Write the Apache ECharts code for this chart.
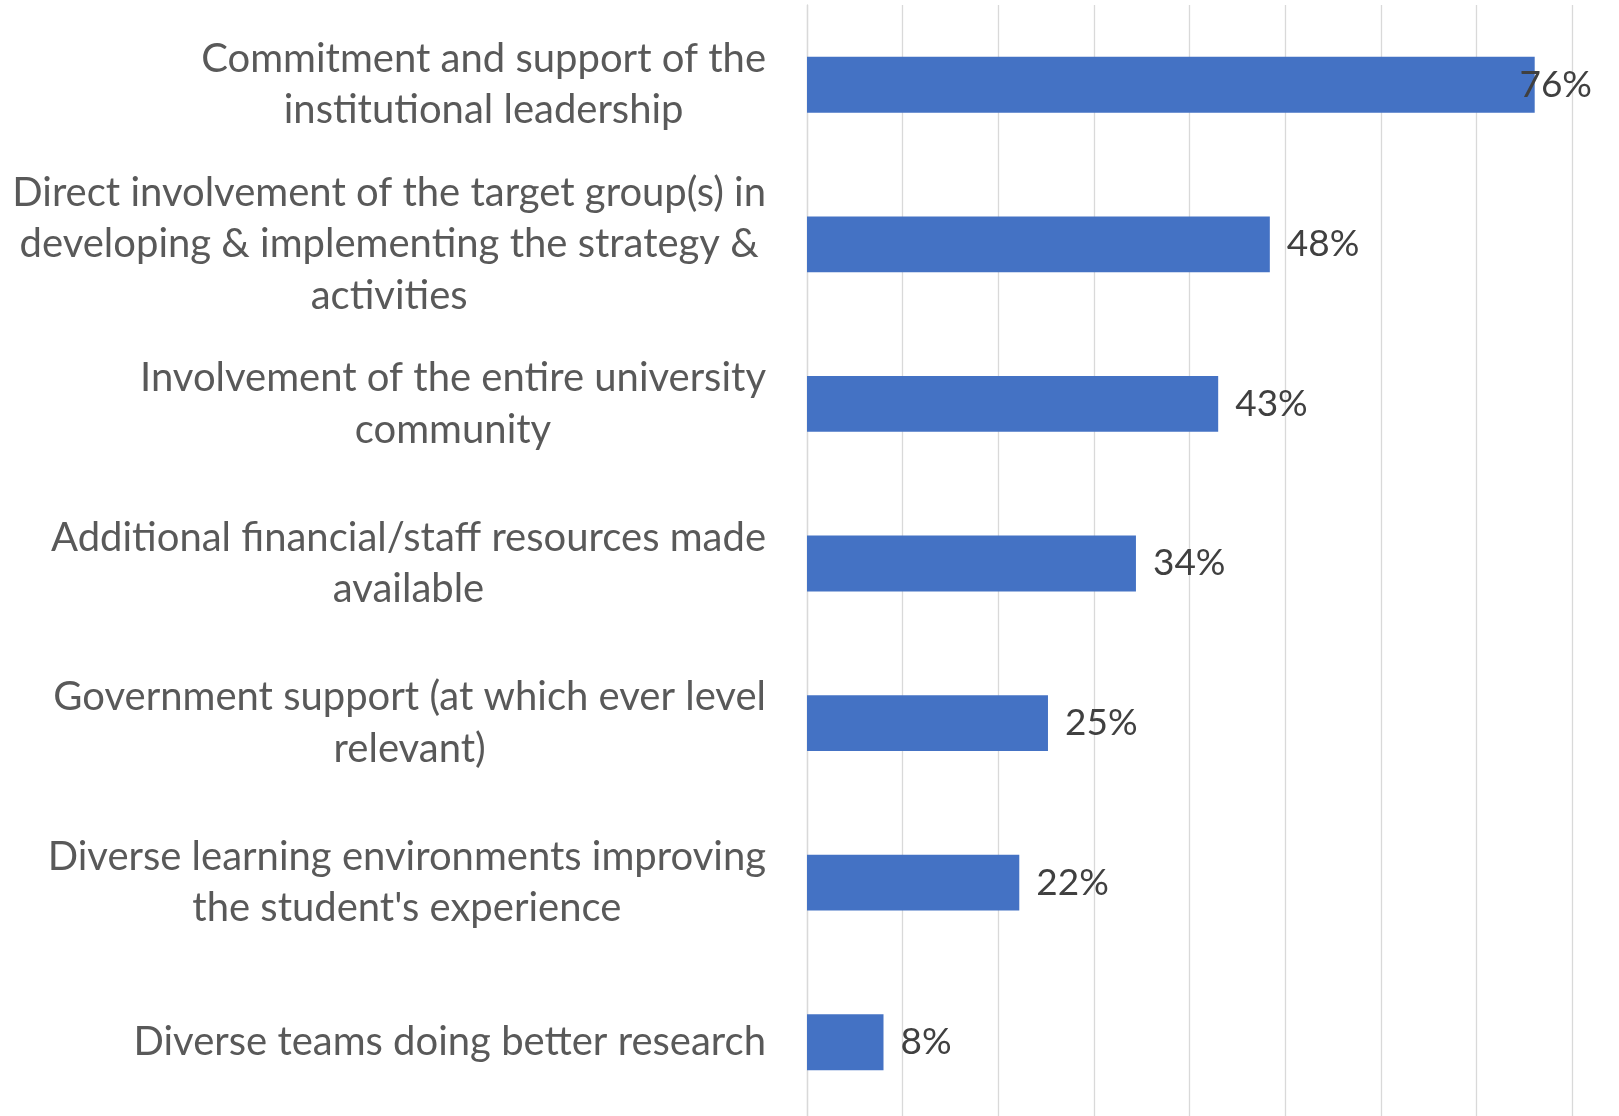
<!DOCTYPE html>
<html>
<head>
<meta charset="utf-8">
<script src="https://cdn.jsdelivr.net/npm/echarts@6/dist/echarts.min.js"></script>
<style>
html,body{margin:0;padding:0;background:#fff;}
#c{width:1619px;height:1116px;}
</style>
</head>
<body>
<div id="c"></div>
<script>
const categories = [
  "Commitment and support of the\ninstitutional leadership",
  "Direct involvement of the target group(s) in\ndeveloping & implementing the strategy &\nactivities",
  "Involvement of the entire university\ncommunity",
  "Additional financial/staff resources made\navailable",
  "Government support (at which ever level\nrelevant)",
  "Diverse learning environments improving\nthe student's experience",
  "Diverse teams doing better research"
];
const values = [76.1, 48.4, 43.0, 34.4, 25.2, 22.2, 8.0];
const xTicks = [0, 10, 20, 30, 40, 50, 60, 70, 80];

const FONT = 'Lato';
const chart = echarts.init(document.getElementById('c'), null, {renderer: 'canvas'});
const W = 1619;
chart.setOption({
  animation: false,
  backgroundColor: '#ffffff',
  grid: {left: 807, right: 47, top: 5, height: 1117, containLabel: false, outerBoundsMode: 'none'},
  xAxis: {
    type: 'value',
    min: xTicks[0],
    max: xTicks[xTicks.length - 1],
    interval: 10,
    axisLabel: {show: false},
    axisLine: {show: false},
    axisTick: {show: false},
    splitLine: {show: true, lineStyle: {color: '#d9d9d9', width: 1.3}}
  },
  yAxis: {
    type: 'category',
    inverse: true,
    data: categories,
    axisLine: {show: true, lineStyle: {color: '#d9d9d9', width: 1.3}},
    axisTick: {show: false},
    axisLabel: {
      margin: 41,
      align: 'right',
      formatter: function (v) {
        return v.split('\n').map(function (l) { return '{c|' + l + '}'; }).join('\n');
      },
      rich: {
        c: {align: 'center', fontFamily: FONT, fontSize: 40, color: '#595959', lineHeight: 51.5}
      }
    }
  },
  series: [{
    type: 'bar',
    data: values,
    barWidth: '35%',
    itemStyle: {color: '#4472C4'},
    label: {
      show: true,
      position: 'right',
      distance: 17,
      formatter: function (p) { return Math.round(p.value) + '%'; },
      fontFamily: FONT,
      fontSize: 37,
      color: '#404040'
    },
    labelLayout: function (p) {
      const r = p.labelRect;
      const maxRight = W - 27;
      if (r.x + r.width > maxRight) {
        return {x: maxRight - r.width, y: r.y + r.height / 2, align: 'left', verticalAlign: 'middle'};
      }
      return {};
    }
  }]
});
</script>
</body>
</html>
